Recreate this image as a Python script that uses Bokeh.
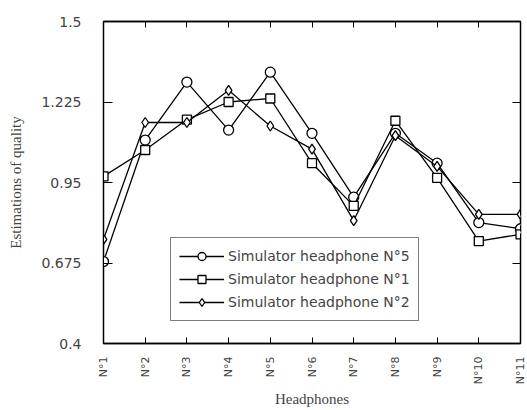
from bokeh.plotting import figure
from bokeh.models import (Range1d, FixedTicker, LinearAxis, Legend, LegendItem, CustomJSTickFormatter)
from bokeh.embed import file_html
from bokeh.resources import INLINE
import math

headphones = ["N°1", "N°2", "N°3", "N°4", "N°5", "N°6", "N°7", "N°8", "N°9", "N°10", "N°11"]
positions = [1, 2, 3, 4, 5, 6, 7, 8, 9, 10, 11]
sim_n5 = [0.68, 1.095, 1.293, 1.129, 1.327, 1.118, 0.90, 1.118, 1.016, 0.813, 0.792]
sim_n1 = [0.971, 1.061, 1.165, 1.225, 1.237, 1.016, 0.87, 1.161, 0.966, 0.75, 0.773]
sim_n2 = [0.756, 1.155, 1.155, 1.265, 1.143, 1.064, 0.82, 1.11, 1.005, 0.841, 0.841]
y_ticks = [0.4, 0.675, 0.95, 1.225, 1.5]
series_names = ["Simulator headphone N°5", "Simulator headphone N°1", "Simulator headphone N°2"]

p = figure(width=527, height=410, output_backend="svg", toolbar_location=None,
           x_range=Range1d(1, 11), y_range=Range1d(0.4, 1.5),
           min_border_left=103, min_border_right=7, min_border_top=21, min_border_bottom=0)
p.grid.visible = False
p.outline_line_color = "black"
p.outline_line_width = 1.5
p.background_fill_color = "white"
p.border_fill_color = "white"

# axes
p.xaxis.ticker = FixedTicker(ticks=positions)
p.xaxis.major_label_overrides = {i: s for i, s in zip(positions, headphones)}
p.xaxis.major_label_orientation = math.pi / 2
p.xaxis.major_tick_in = 6
p.xaxis.major_tick_out = 0
p.xaxis.minor_tick_line_color = None
p.xaxis.axis_label = "Headphones"
p.xaxis.axis_label_text_font = "Liberation Serif"
p.xaxis.axis_label_text_font_style = "normal"
p.xaxis.axis_label_text_font_size = "15px"
p.xaxis.axis_label_standoff = 4
p.xaxis.major_label_text_font = "DejaVu Sans"
p.xaxis.major_label_text_font_size = "11px"
p.xaxis.major_label_standoff = 13
p.xaxis.axis_line_width = 1.5

p.yaxis.ticker = FixedTicker(ticks=y_ticks)
p.yaxis.major_label_overrides = {0.4: "0.4", 0.675: "0.675", 0.95: "0.95", 1.225: "1.225", 1.5: "1.5"}
p.yaxis.major_tick_in = 9
p.yaxis.major_tick_out = 0
p.yaxis.minor_tick_line_color = None
p.yaxis.axis_label = "Estimations of quality"
p.yaxis.axis_label_text_font = "Liberation Serif"
p.yaxis.axis_label_text_font_style = "normal"
p.yaxis.axis_label_text_font_size = "15px"
p.yaxis.axis_label_standoff = 14
p.yaxis.major_label_text_font = "DejaVu Sans"
p.yaxis.major_label_text_font_size = "14px"
p.yaxis.major_label_standoff = 22

blank = CustomJSTickFormatter(code="return '';")
top = LinearAxis(ticker=FixedTicker(ticks=positions), formatter=blank,
                 major_tick_in=6, major_tick_out=0, minor_tick_line_color=None,
                 axis_line_width=1.5, major_label_standoff=0)
p.add_layout(top, "above")
right = LinearAxis(ticker=FixedTicker(ticks=y_ticks), formatter=blank,
                   major_tick_in=8, major_tick_out=0, minor_tick_line_color=None,
                   axis_line_dash="6 2", major_label_standoff=0)
p.add_layout(right, "right")

r1 = p.line(positions, sim_n5, line_color="black", line_width=1.3)
m1 = p.scatter(positions, sim_n5, marker="circle", size=10, fill_color="white", line_color="black", line_width=1.3)
r2 = p.line(positions, sim_n1, line_color="black", line_width=1.3)
m2 = p.scatter(positions, sim_n1, marker="square", size=9, fill_color="white", line_color="black", line_width=1.3)
r3 = p.line(positions, sim_n2, line_color="black", line_width=1.3)
m3 = p.scatter(positions, sim_n2, marker="diamond", size=10, fill_color="white", line_color="black", line_width=1.3)

legend = Legend(items=[LegendItem(label=series_names[0], renderers=[r1, m1]),
                       LegendItem(label=series_names[1], renderers=[r2, m2]),
                       LegendItem(label=series_names[2], renderers=[r3, m3])],
                location=(67, 22), border_line_color="black", border_line_width=1.5,
                label_text_font="DejaVu Sans", label_text_font_size="14px",
                glyph_width=45, spacing=3, padding=8, margin=0,
                label_standoff=4, background_fill_alpha=1)
p.add_layout(legend, "center")

open("out.html", "w").write(file_html(p, INLINE))
